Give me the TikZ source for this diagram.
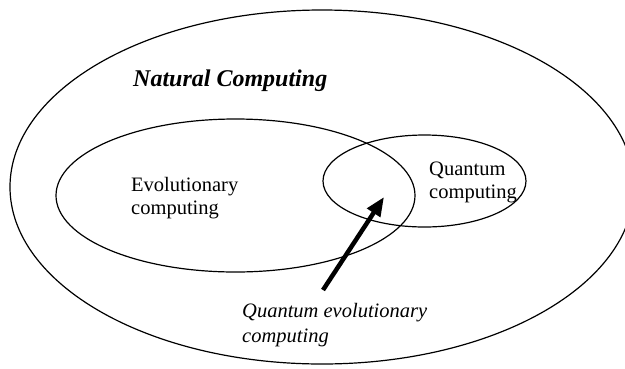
\documentclass[tikz,border=0pt]{standalone}
\usepackage{fontspec}
\setmainfont{Liberation Serif}
\usetikzlibrary{arrows.meta}
\definecolor{ncInk}{HTML}{000000}
\tikzset{
  nc set/.style={draw=ncInk, line width=1.2pt},
  nc title/.style={font=\fontsize{24}{28}\selectfont\bfseries\itshape, text=ncInk, anchor=base west, inner sep=0pt},
  nc label/.style={font=\fontsize{20.5}{23}\selectfont, text=ncInk, align=left, anchor=base west, inner sep=0pt},
  nc pointer/.style={draw=ncInk, line width=4.5pt, -{Triangle[length=19pt,width=15pt]}},
}

\begin{document}
\begin{tikzpicture}[x=1pt,y=-1pt]
  \useasboundingbox (0,0) rectangle (625,368);
  % the three sets
  \draw[nc set] (322,187) ellipse [x radius=312, y radius=177];
  \draw[nc set] (235.5,195.5) ellipse [x radius=179.5, y radius=76.5];
  \draw[nc set] (424.5,181) ellipse [x radius=101.5, y radius=46];
  % labels (base west sits on the last line)
  \node[nc title] (natural) at (133,86) {Natural Computing};
  \node[nc label] (evolutionary) at (131,214) {Evolutionary\\computing};
  \node[nc label] (quantum) at (429,198) {Quantum\\computing};
  \node[nc label, font=\fontsize{20.5}{25}\selectfont\itshape] (hybrid) at (242,342) {Quantum evolutionary\\computing};
  % pointer into the overlap
  \coordinate (pointer tail) at (323,290);
  \coordinate (overlap) at (384,197);
  \draw[nc pointer] (pointer tail) -- (overlap);
\end{tikzpicture}
\end{document}
